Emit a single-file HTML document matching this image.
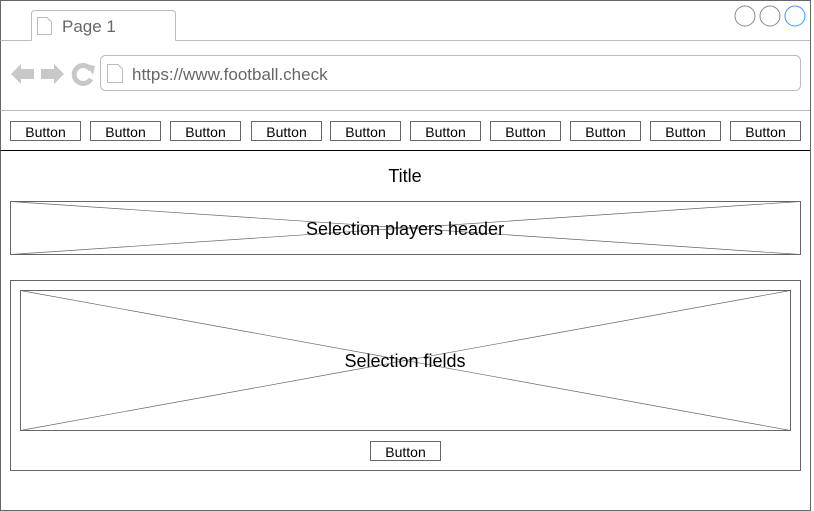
<!DOCTYPE html>
<html><head><style>body{margin:0;background:#fff}svg{display:block}</style></head><body>
<svg width="814" height="511" xmlns="http://www.w3.org/2000/svg" font-family="Liberation Sans, Arial, sans-serif">
<rect x="0.5" y="0.5" width="810" height="510" fill="#fff" stroke="#666"/>
<path d="M31.5 40.5 V14 Q31.5 10.5 35 10.5 H172 Q175.5 10.5 175.5 14 V40.5" fill="#fff" stroke="#bbb"/>
<line x1="0.5" y1="40.5" x2="31.5" y2="40.5" stroke="#bbb"/>
<line x1="175.5" y1="40.5" x2="810" y2="40.5" stroke="#bbb"/>
<path d="M37.5 17.5 H47 L51.5 22 V34.5 H37.5 Z" fill="#fff" stroke="#bbb"/>
<text x="62" y="32" font-size="17" fill="#666">Page 1</text>
<circle cx="745" cy="16" r="10" fill="#fff" stroke="#888"/>
<circle cx="770" cy="16" r="10" fill="#fff" stroke="#888"/>
<circle cx="795" cy="16" r="10" fill="#fff" stroke="#3399ff"/>
<path d="M11 74 L21 64 V69 H34 V79 H21 V84 Z" fill="#c8c8c8"/>
<path d="M64 74 L54 64 V69 H41 V79 H54 V84 Z" fill="#c8c8c8"/>
<path d="M91 70 A9 9 0 1 0 91 79" fill="none" stroke="#c8c8c8" stroke-width="5"/>
<path d="M86 64 L95 66 L93 75 Z" fill="#c8c8c8"/>
<rect x="100.5" y="55.5" width="700" height="35" rx="5" fill="#fff" stroke="#bbb"/>
<path d="M107.5 64.5 H118 L122.5 69 V82.5 H107.5 Z" fill="#fff" stroke="#bbb"/>
<text x="132" y="80" font-size="17" fill="#666">https://www.football.check</text>
<line x1="0.5" y1="110.5" x2="810" y2="110.5" stroke="#bbb"/>
<g font-size="14" text-anchor="middle" fill="#000">
<rect x="10.5" y="121.5" width="70" height="19" fill="#fff" stroke="#666"/><text x="45.5" y="137">Button</text>
<rect x="90.5" y="121.5" width="70" height="19" fill="#fff" stroke="#666"/><text x="125.5" y="137">Button</text>
<rect x="170.5" y="121.5" width="70" height="19" fill="#fff" stroke="#666"/><text x="205.5" y="137">Button</text>
<rect x="251.5" y="121.5" width="70" height="19" fill="#fff" stroke="#666"/><text x="286.5" y="137">Button</text>
<rect x="330.5" y="121.5" width="70" height="19" fill="#fff" stroke="#666"/><text x="365.5" y="137">Button</text>
<rect x="410.5" y="121.5" width="70" height="19" fill="#fff" stroke="#666"/><text x="445.5" y="137">Button</text>
<rect x="490.5" y="121.5" width="70" height="19" fill="#fff" stroke="#666"/><text x="525.5" y="137">Button</text>
<rect x="570.5" y="121.5" width="70" height="19" fill="#fff" stroke="#666"/><text x="605.5" y="137">Button</text>
<rect x="650.5" y="121.5" width="70" height="19" fill="#fff" stroke="#666"/><text x="685.5" y="137">Button</text>
<rect x="730.5" y="121.5" width="70" height="19" fill="#fff" stroke="#666"/><text x="765.5" y="137">Button</text>
</g>
<line x1="0.5" y1="150.5" x2="810" y2="150.5" stroke="#000"/>
<text x="405" y="182" font-size="18" text-anchor="middle">Title</text>
<rect x="10.5" y="201.5" width="790" height="53" fill="#fff" stroke="#666"/>
<path d="M10.5 201.5 L800.5 254.5 M800.5 201.5 L10.5 254.5" stroke="#666" stroke-width="0.7"/>
<text x="405" y="235" font-size="18" text-anchor="middle">Selection players header</text>
<rect x="10.5" y="280.5" width="790" height="190" fill="#fff" stroke="#666"/>
<rect x="20.5" y="290.5" width="770" height="140" fill="#fff" stroke="#666"/>
<path d="M20.5 290.5 L790.5 430.5 M790.5 290.5 L20.5 430.5" stroke="#666" stroke-width="0.7"/>
<text x="405" y="367" font-size="18" text-anchor="middle">Selection fields</text>
<rect x="370.5" y="441.5" width="70" height="19" fill="#fff" stroke="#666"/>
<text x="405.5" y="457" font-size="14" text-anchor="middle">Button</text>
</svg>
</body></html>
